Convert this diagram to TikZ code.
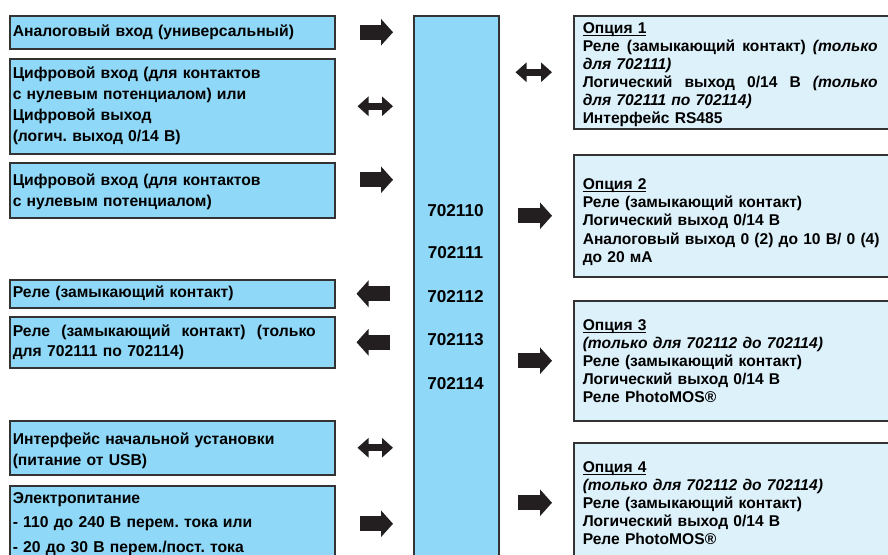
\documentclass[tikz,border=0pt]{standalone}
\usepackage{fontspec}
\setmainfont{Liberation Sans}
\usetikzlibrary{arrows.meta}

\definecolor{boxblue}{HTML}{8FD8F7}
\definecolor{optblue}{HTML}{DDF1FB}
\definecolor{framegray}{HTML}{333333}
\definecolor{arrowblack}{HTML}{231F20}
\newcommand{\jline}[2]{\leavevmode\hbox to #1{#2}}
\newcommand{\optitle}[1]{\leavevmode\setbox0\hbox{#1}\rlap{\rule[-2.6pt]{\wd0}{1.1pt}}\box0}
\newcommand{\topgap}[1]{\rule{0pt}{#1}}
\frenchspacing

\tikzset{
    unitbox/.style={draw=framegray, line width=1.5pt, fill=boxblue, anchor=north west, inner sep=0pt},
    leftbox/.style={unitbox, text width=319pt, inner xsep=3pt, align=left,
        font=\bfseries\fontsize{15.7}{21}\selectfont},
    optbox/.style={leftbox, fill=optblue, text width=322pt, inner xsep=9pt,
        font=\bfseries\fontsize{15.6}{18}\selectfont},
    unitlabel/.style={font=\bfseries\fontsize{17.2}{20}\selectfont},
    fatarrow/.style={arrowblack, line width=15pt, -{Triangle[length=12pt,width=26pt]}},
    fatboth/.style={arrowblack, line width=7pt,
        {Triangle[length=11pt,width=19pt]}-{Triangle[length=11pt,width=19pt]}}
}

\begin{document}
\begin{tikzpicture}[x=1pt, y=-1pt]
        \useasboundingbox (0,0) rectangle (888,554);
        \clip (0,0) rectangle (888,554);

        % Central unit
        \node[unitbox, minimum width=85pt, minimum height=560pt] (unit) at (413,15) {};
        \foreach \y/\model in {211/702110, 253/702111, 297/702112, 340/702113, 384/702114} {
            \node[unitlabel] (lbl\model) at (455.5,\y) {\model};
        }

        % Inputs and outputs on the left
        \node[leftbox, minimum height=33pt] (ain) at (9,15) {Аналоговый вход (универсальный)};
        \node[leftbox, minimum height=95pt] (dio) at (9,58) {Цифровой вход (для контактов\\с нулевым потенциалом) или\\Цифровой выход\\(логич. выход 0/14 В)};
        \node[leftbox, minimum height=55pt] (din) at (9,162) {\topgap{15pt}Цифровой вход (для контактов\\с нулевым потенциалом)};
        \node[leftbox, minimum height=28pt] (rel) at (9,279) {Реле (замыкающий контакт)};
        \node[leftbox, minimum height=51pt, font=\bfseries\fontsize{15.7}{19.5}\selectfont] (relopt) at (9,316) {\jline{303pt}{Реле\hfill(замыкающий\hfill контакт)\hfill(только}\\для 702111 по 702114)};
        \node[leftbox, minimum height=54pt] (setup) at (9,420) {\topgap{17pt}Интерфейс начальной установки\\(питание от USB)};
        \node[leftbox, minimum height=76pt, font=\bfseries\fontsize{15.7}{24.5}\selectfont] (power) at (9,485) {Электропитание\\- 110 до 240 В перем. тока или\\- 20 до 30 В перем./пост. тока};

        % Options on the right
        \node[optbox, minimum height=113pt] (opt1) at (573,15) {\topgap{16.5pt}\optitle{Опция 1}\\\jline{295pt}{Реле\hfill(замыкающий\hfill контакт)\hfill\textit{(только}}\\\textit{для 702111)}\\\jline{295pt}{Логический\hfill выход\hfill 0/14\hfill В\hfill\textit{(только}}\\\textit{для 702111 по 702114)}\\Интерфейс RS485};
        \node[optbox, minimum height=122pt, font=\bfseries\fontsize{15.6}{18.3}\selectfont] (opt2) at (573,154) {\topgap{23.5pt}\optitle{Опция 2}\\Реле (замыкающий контакт)\\Логический выход 0/14 В\\Аналоговый выход 0 (2) до 10 В/ 0 (4)\\до 20 мА};
        \node[optbox, minimum height=120pt] (opt3) at (573,300) {\optitle{Опция 3}\\\textit{(только для 702112 до 702114)}\\Реле (замыкающий контакт)\\Логический выход 0/14 В\\Реле PhotoMOS®};
        \node[optbox, minimum height=120pt] (opt4) at (573,442) {\optitle{Опция 4}\\\textit{(только для 702112 до 702114)}\\Реле (замыкающий контакт)\\Логический выход 0/14 В\\Реле PhotoMOS®};

        % Arrows left
        \coordinate (a3) at ([yshift=10.5pt]din.east);
        \draw[fatarrow, shorten <=24pt, shorten >=20pt] (ain.east) -- (unit.west |- ain.east);
        \draw[fatboth, shorten <=22pt, shorten >=20pt] (dio.east) -- (unit.west |- dio.east);
        \draw[fatarrow, shorten <=24pt, shorten >=20pt] (a3) -- (unit.west |- a3);
        \draw[fatarrow, shorten <=23pt, shorten >=21pt] (unit.west |- rel.east) -- (rel.east);
        \draw[fatarrow, shorten <=23pt, shorten >=21pt] (unit.west |- relopt.east) -- (relopt.east);
        \draw[fatboth, shorten <=22pt, shorten >=20pt] (setup.east) -- (unit.west |- setup.east);
        \draw[fatarrow, shorten <=24pt, shorten >=20pt] (power.east) -- (unit.west |- power.east);

        % Arrows right
        \draw[fatboth, shorten <=16pt, shorten >=21pt] (unit.east |- opt1.west) -- (opt1.west);
        \draw[fatarrow, shorten <=18pt, shorten >=21pt] (unit.east |- opt2.west) -- (opt2.west);
        \draw[fatarrow, shorten <=18pt, shorten >=21pt] (unit.east |- opt3.west) -- (opt3.west);
        \draw[fatarrow, shorten <=18pt, shorten >=21pt] (unit.east |- opt4.west) -- (opt4.west);

    \end{tikzpicture}
\end{document}
